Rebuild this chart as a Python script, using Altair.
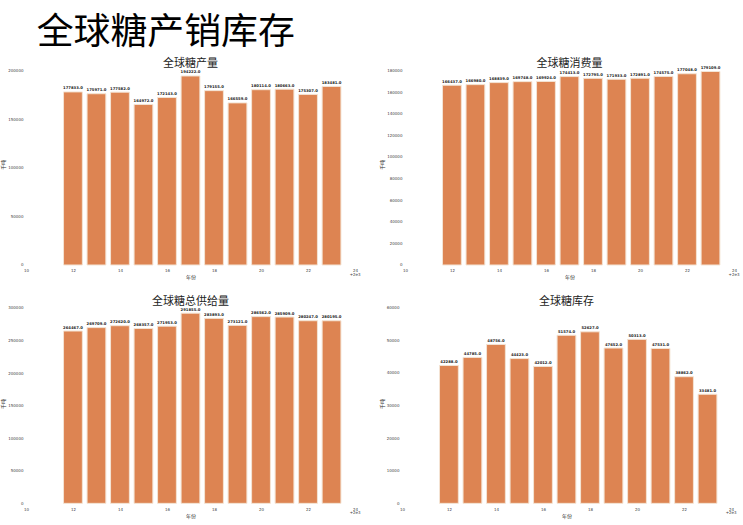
import altair as alt
import pandas as pd

years = list(range(2012, 2024))
production = [177833, 175971, 177582, 164972, 172143, 194222, 179155, 166559, 180114, 180663, 175307, 183481]
consumption = [166437, 166980, 168839, 169748, 169924, 174413, 172795, 171933, 172891, 174575, 177048, 179109]
supply = [264467, 269709, 272620, 268357, 271953, 291855, 283893, 273121, 286562, 285909, 280247, 280195]
stock = [42288, 44785, 48756, 44423, 42012, 51574, 52627, 47652, 50313, 47531, 38862, 33481]

x_ticks = list(range(2010, 2025, 2))
CJK = "Noto Sans CJK SC"
NUM = "DejaVu Sans"
BAR = "#DD8452"


def panel(values, title, ymax, yticks, width, height, toff):
    df = pd.DataFrame({"year": years, "value": values})
    base = alt.Chart(df).transform_calculate(
        x0="datum.year - 0.4", x1="datum.year + 0.4"
    )
    xs = alt.Scale(domain=[2010, 2024], nice=False, zero=False)
    ys = alt.Scale(domain=[0, ymax], nice=False)
    bars = base.mark_bar(color=BAR, stroke="#F4E4D4", strokeWidth=1).encode(
        x=alt.X(
            "x0:Q",
            scale=xs,
            axis=alt.Axis(
                values=x_ticks,
                tickCount=30,
                labelExpr="datum.value - 2000",
                title="年份",
                labelFlush=False,
                labelOverlap=False,
                labelFontSize=4,
                labelFont=NUM,
                labelPadding=4,
                titleFontSize=5,
                titleFont=CJK,
                titleFontWeight="normal",
                titlePadding=2,
            ),
        ),
        x2="x1:Q",
        y=alt.Y(
            "value:Q",
            scale=ys,
            axis=alt.Axis(
                values=yticks,
                tickCount=30,
                format="d",
                title="千吨",
                labelOverlap=False,
                labelFontSize=4,
                labelFont=NUM,
                labelPadding=3,
                titleFontSize=5,
                titleFont=CJK,
                titleFontWeight="normal",
                titlePadding=2,
            ),
        ),
        y2=alt.Y2(datum=0),
    )
    labels = base.mark_text(
        dy=-1.5, fontSize=3.8, fontWeight="bold", baseline="bottom", font=NUM, color="#222"
    ).encode(
        x="year:Q",
        y="value:Q",
        text=alt.Text("value:Q", format=".1f"),
    )
    off = alt.Chart(pd.DataFrame({"t": ["+2e3"], "xv": [2024]})).mark_text(
        fontSize=4, font=NUM, color="#444", baseline="top", align="center"
    ).encode(
        x=alt.X("xv:Q"),
        y=alt.value(height + 8),
        text="t:N",
    )
    return alt.layer(bars, labels, off).properties(
        width=width,
        height=height,
        title=alt.TitleParams(
            title, fontSize=11, font=CJK, fontWeight="normal", color="#222", offset=toff
        ),
    )


p1 = panel(production, "全球糖产量", 207000, list(range(0, 200001, 50000)), 330, 202, -5)
p2 = panel(consumption, "全球糖消费量", 186500, list(range(0, 180001, 20000)), 330, 202, -5)
p3 = panel(supply, "全球糖总供给量", 306100, list(range(0, 300001, 50000)), 330, 200, -3)
p4 = panel(stock, "全球糖库存", 61200, list(range(0, 60001, 10000)), 330, 200, -3)

chart = alt.vconcat(
    alt.hconcat(p1, p2, spacing=18),
    alt.hconcat(p3, p4, spacing=18),
    spacing=16,
).properties(
    title=alt.TitleParams(
        "全球糖产销库存",
        fontSize=37,
        font=CJK,
        fontWeight="normal",
        color="black",
        anchor="start",
        dx=36,
        offset=6,
    ),
    padding={"left": 0, "top": 13, "right": 3, "bottom": 3},
).configure_view(stroke=None).configure_axis(
    grid=False, domain=False, ticks=False, labelColor="#444", titleColor="#333",
    labelOverlap=False
)

chart.save("out.html", embed_options={"renderer": "svg", "actions": False})
